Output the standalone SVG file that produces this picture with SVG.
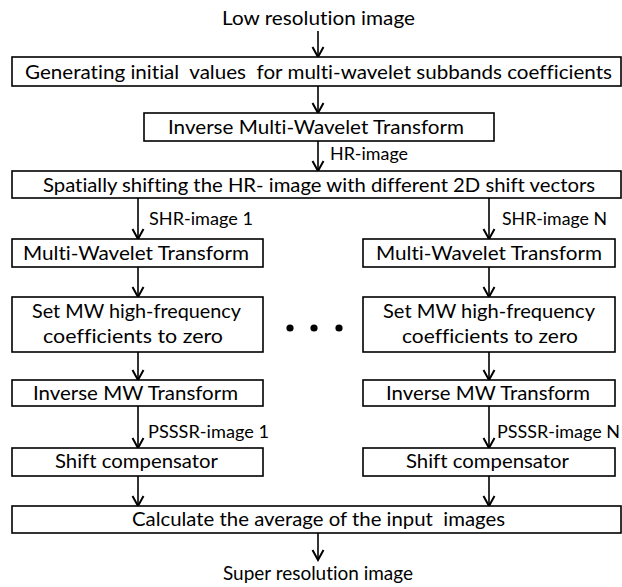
<svg xmlns="http://www.w3.org/2000/svg" width="622" height="587" viewBox="0 0 622 587">
<style>
  .box { fill: #ffffff; stroke: #000000; stroke-width: 1.6; }
  .t { font-family: Lato, "Liberation Sans", sans-serif; font-size: 19px; fill: #000000; white-space: pre; font-variant-ligatures: none; }
  .lbl { font-family: Lato, "Liberation Sans", sans-serif; font-size: 17.5px; fill: #000000; white-space: pre; font-variant-ligatures: none; }
  .c { stroke: #000000; stroke-width: 1.6; fill: none; }
</style>
<defs>
  <marker id="arr" markerUnits="userSpaceOnUse" viewBox="-1 -7 13 14" markerWidth="13" markerHeight="14" refX="10" refY="0" orient="auto">
    <path d="M0,-5.5 L10,0 L0,5.5" fill="none" stroke="#000000" stroke-width="2"/>
  </marker>
</defs>

<g id="connectors">
  <line class="c" x1="318" y1="31" x2="318" y2="57" marker-end="url(#arr)"/>
  <line class="c" x1="318" y1="86" x2="318" y2="113" marker-end="url(#arr)"/>
  <line class="c" x1="318" y1="141" x2="318" y2="171" marker-end="url(#arr)"/>
  <line class="c" x1="138" y1="198" x2="138" y2="239" marker-end="url(#arr)"/>
  <line class="c" x1="489" y1="198" x2="489" y2="239" marker-end="url(#arr)"/>
  <line class="c" x1="138" y1="267" x2="138" y2="297" marker-end="url(#arr)"/>
  <line class="c" x1="489" y1="267" x2="489" y2="297" marker-end="url(#arr)"/>
  <line class="c" x1="138" y1="352" x2="138" y2="380" marker-end="url(#arr)"/>
  <line class="c" x1="489" y1="352" x2="489" y2="380" marker-end="url(#arr)"/>
  <line class="c" x1="138" y1="406" x2="138" y2="448" marker-end="url(#arr)"/>
  <line class="c" x1="489" y1="406" x2="489" y2="448" marker-end="url(#arr)"/>
  <line class="c" x1="138" y1="476" x2="138" y2="506" marker-end="url(#arr)"/>
  <line class="c" x1="489" y1="476" x2="489" y2="506" marker-end="url(#arr)"/>
  <line class="c" x1="318" y1="533" x2="318" y2="560" marker-end="url(#arr)"/>
  <text class="lbl" x="330" y="160" textLength="78" lengthAdjust="spacingAndGlyphs">HR-image</text>
  <text class="lbl" x="149" y="225" textLength="104" lengthAdjust="spacingAndGlyphs">SHR-image 1</text>
  <text class="lbl" x="502" y="225" textLength="105" lengthAdjust="spacingAndGlyphs">SHR-image N</text>
  <text class="lbl" x="148" y="438" textLength="121" lengthAdjust="spacingAndGlyphs">PSSSR-image 1</text>
  <text class="lbl" x="497" y="438" textLength="123" lengthAdjust="spacingAndGlyphs">PSSSR-image N</text>
</g>

<g id="input">
  <text class="t" x="222" y="25" textLength="193" lengthAdjust="spacingAndGlyphs">Low resolution image</text>
</g>

<g id="generate">
  <rect class="box" x="12" y="57" width="609" height="29"/>
  <text class="t" x="25" y="79" textLength="587" lengthAdjust="spacingAndGlyphs">Generating initial  values  for multi-wavelet subbands coefficients</text>
</g>

<g id="imwt">
  <rect class="box" x="144" y="113" width="350" height="28"/>
  <text class="t" x="168" y="134" textLength="296" lengthAdjust="spacingAndGlyphs">Inverse Multi-Wavelet Transform</text>
</g>

<g id="shift">
  <rect class="box" x="12" y="171" width="609" height="27"/>
  <text class="t" x="43" y="192" textLength="552" lengthAdjust="spacingAndGlyphs">Spatially shifting the HR- image with different 2D shift vectors</text>
</g>

<g id="mwt1">
  <rect class="box" x="12" y="239" width="251" height="28"/>
  <text class="t" x="23" y="260" textLength="226" lengthAdjust="spacingAndGlyphs">Multi-Wavelet Transform</text>
</g>
<g id="mwtN">
  <rect class="box" x="363" y="239" width="252" height="28"/>
  <text class="t" x="376" y="260" textLength="226" lengthAdjust="spacingAndGlyphs">Multi-Wavelet Transform</text>
</g>

<g id="set1">
  <rect class="box" x="12" y="297" width="251" height="55"/>
  <text class="t" x="32" y="318" textLength="209" lengthAdjust="spacingAndGlyphs">Set MW high-frequency</text>
  <text class="t" x="43" y="343" textLength="180" lengthAdjust="spacingAndGlyphs">coefficients to zero</text>
</g>
<g id="setN">
  <rect class="box" x="363" y="297" width="252" height="55"/>
  <text class="t" x="383" y="318" textLength="212" lengthAdjust="spacingAndGlyphs">Set MW high-frequency</text>
  <text class="t" x="402" y="343" textLength="176" lengthAdjust="spacingAndGlyphs">coefficients to zero</text>
</g>

<g id="dots">
  <circle cx="290" cy="328" r="3.6" fill="#000000"/>
  <circle cx="314" cy="328" r="3.6" fill="#000000"/>
  <circle cx="339" cy="328" r="3.6" fill="#000000"/>
</g>

<g id="imw1">
  <rect class="box" x="12" y="380" width="251" height="26"/>
  <text class="t" x="33" y="400" textLength="205" lengthAdjust="spacingAndGlyphs">Inverse MW Transform</text>
</g>
<g id="imwN">
  <rect class="box" x="363" y="380" width="252" height="26"/>
  <text class="t" x="386" y="400" textLength="204" lengthAdjust="spacingAndGlyphs">Inverse MW Transform</text>
</g>

<g id="comp1">
  <rect class="box" x="12" y="448" width="251" height="28"/>
  <text class="t" x="55" y="468" textLength="163" lengthAdjust="spacingAndGlyphs">Shift compensator</text>
</g>
<g id="compN">
  <rect class="box" x="363" y="448" width="252" height="28"/>
  <text class="t" x="406" y="468" textLength="163" lengthAdjust="spacingAndGlyphs">Shift compensator</text>
</g>

<g id="average">
  <rect class="box" x="12" y="506" width="609" height="27"/>
  <text class="t" x="132" y="526" textLength="373" lengthAdjust="spacingAndGlyphs">Calculate the average of the input  images</text>
</g>

<g id="output">
  <text class="t" x="223" y="580" textLength="190" lengthAdjust="spacingAndGlyphs">Super resolution image</text>
</g>
</svg>
